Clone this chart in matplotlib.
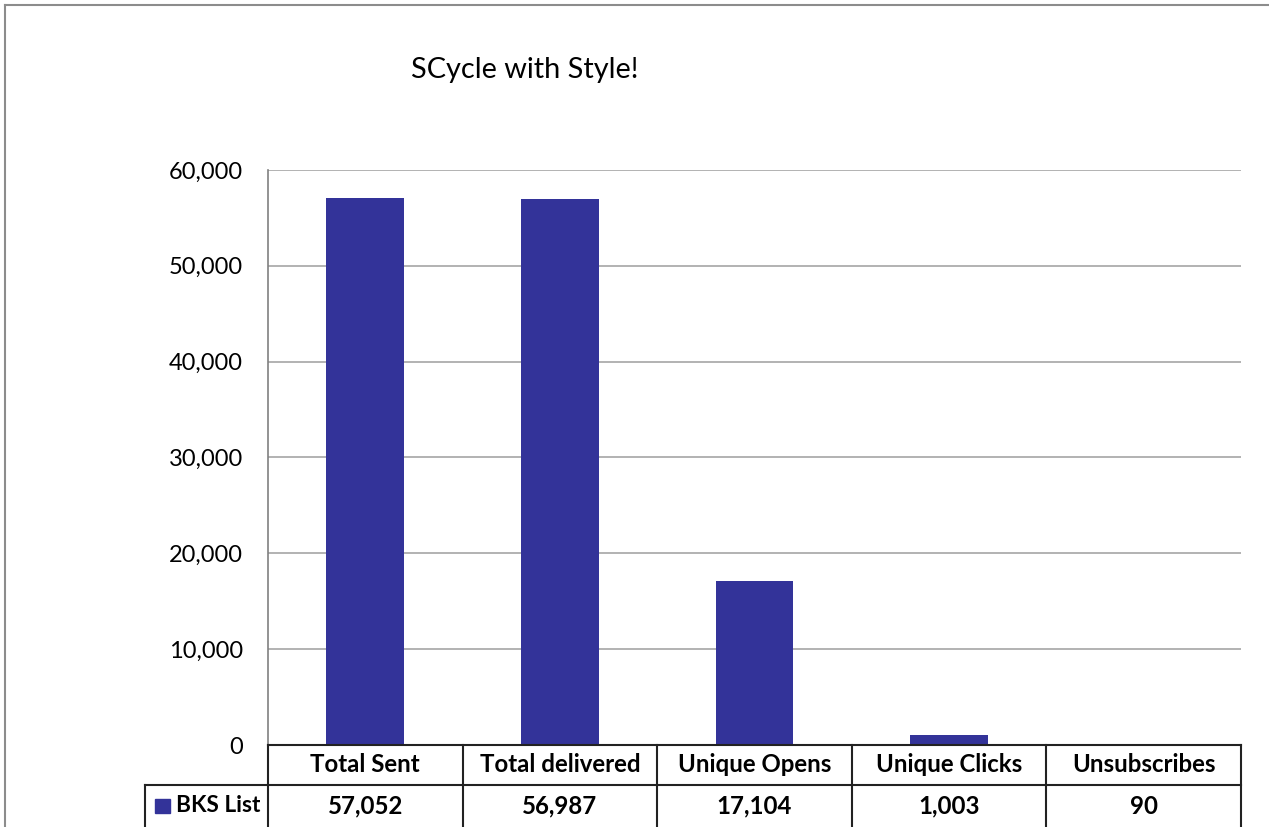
import matplotlib
matplotlib.use("Agg")
import matplotlib.pyplot as plt
from matplotlib.lines import Line2D
from matplotlib.patches import Rectangle
from matplotlib.ticker import FuncFormatter, MultipleLocator

categories = ["Total Sent", "Total delivered", "Unique Opens", "Unique Clicks", "Unsubscribes"]
values = [57052, 56987, 17104, 1003, 90]
series_name = "BKS List"
title = "SCycle with Style!"

W, H = 1269, 827
BAR = "#333399"
FONT = ["Lato", "DejaVu Sans"]
plt.rcParams["font.family"] = FONT

fig = plt.figure(figsize=(W / 100, H / 100), dpi=100)

def fx(px):
    return px / W

def fy(py):
    return 1 - py / H

left, right, top, bottom = 268, 1241, 170, 745
ax = fig.add_axes([fx(left), fy(bottom), fx(right - left), (bottom - top) / H])
x = list(range(len(categories)))
ax.bar(x, values, width=0.40, color=BAR, zorder=3)
ax.set_xlim(-0.5, len(categories) - 0.5)
ax.set_ylim(0, 60000)
ax.yaxis.set_major_locator(MultipleLocator(10000))
ax.yaxis.set_major_formatter(FuncFormatter(lambda v, p: f"{int(v):,}"))
ax.grid(axis="y", color="#a6a6a6", linewidth=1.2, zorder=0)
ax.set_xticks([])
for s in ["top", "right", "bottom"]:
    ax.spines[s].set_visible(False)
ax.spines["left"].set_color("#808080")
ax.spines["left"].set_linewidth(1.2)
ax.tick_params(axis="y", length=0, pad=18, labelsize=17)

# Title
fig.text(fx(525), fy(70), title, ha="center", va="center", fontsize=20.8)

# Outer chart border (top + left)
fig.add_artist(Line2D([fx(5), 1], [fy(5), fy(5)], color="#8c8c8c", lw=1.5))
fig.add_artist(Line2D([fx(5), fx(5)], [fy(5), 0], color="#8c8c8c", lw=1.5))

# Data table
n = len(categories)
colw = (right - left) / n
row1_top, row1_bot, row2_bot = 745, 785, 827
lc = "#222222"
lw = 1.5
fig.add_artist(Line2D([fx(left), fx(right)], [fy(row1_top)] * 2, color=lc, lw=lw))
fig.add_artist(Line2D([fx(145), fx(right)], [fy(row1_bot)] * 2, color=lc, lw=lw))
fig.add_artist(Line2D([fx(145), fx(145)], [fy(row1_bot), fy(row2_bot)], color=lc, lw=lw))
for i in range(n + 1):
    xx = left + i * colw
    fig.add_artist(Line2D([fx(xx), fx(xx)], [fy(row1_top), fy(row2_bot)], color=lc, lw=lw))
for i, (c, v) in enumerate(zip(categories, values)):
    cx = left + (i + 0.5) * colw
    fig.text(fx(cx), fy((row1_top + row1_bot) / 2), c, ha="center", va="center",
             fontsize=17.3, fontweight="bold")
    fig.text(fx(cx), fy((row1_bot + row2_bot) / 2), f"{v:,}", ha="center", va="center",
             fontsize=17.3, fontweight="bold")
# legend key
fig.add_artist(Rectangle((fx(155), fy(813)), fx(15), 14 / H, color=BAR))
fig.text(fx(176), fy(806), series_name, ha="left", va="center", fontsize=16.3, fontweight="bold")

fig.savefig("out.png", dpi=100)
